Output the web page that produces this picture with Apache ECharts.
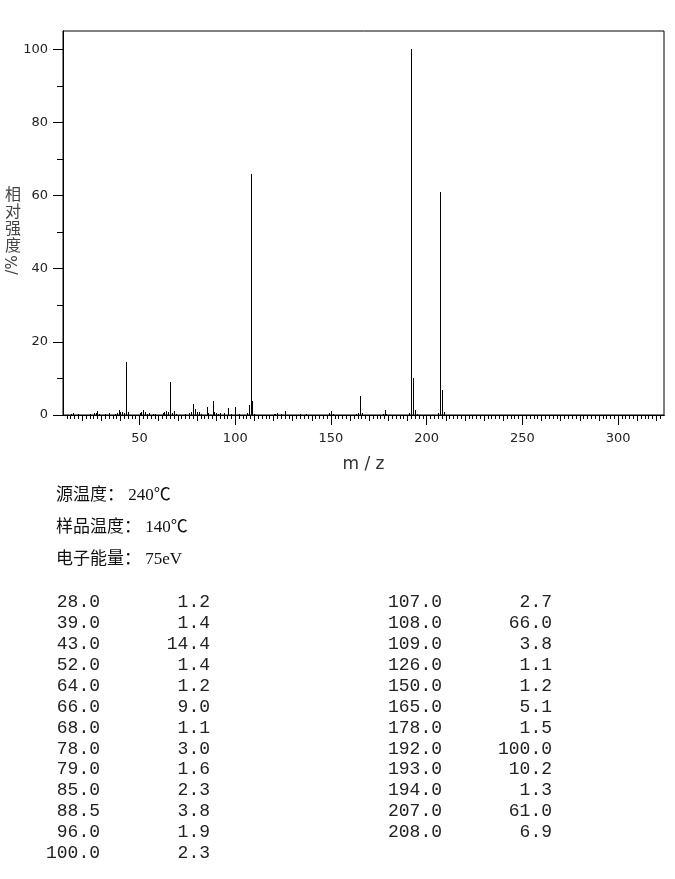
<!DOCTYPE html>
<html><head><meta charset="utf-8">
<script src="https://cdn.jsdelivr.net/npm/echarts@6/dist/echarts.min.js"></script>
<style>html,body{margin:0;padding:0;background:#fff}#c{width:675px;height:879px}</style>
</head><body><div id="c"></div>
<script>
// Listed peaks (m/z, relative intensity %)
const tableMz  = [28.0,39.0,43.0,52.0,64.0,66.0,68.0,78.0,79.0,85.0,88.5,96.0,100.0,
                  107.0,108.0,109.0,126.0,150.0,165.0,178.0,192.0,193.0,194.0,207.0,208.0];
const tableInt = [1.2,1.4,14.4,1.4,1.2,9.0,1.1,3.0,1.6,2.3,3.8,1.9,2.3,
                  2.7,66.0,3.8,1.1,1.2,5.1,1.5,100.0,10.2,1.3,61.0,6.9];
// Small unlisted peaks
const smallMz  = [14,15,18,24,26,27,29,32,34,37,38,40,41,42,44,50,51,53,54,55,57,58,62,63,65,67,69,74,76,77,80,81,82,86,89,90,91,92,94,98,102,106,110,120,121,122,124,134,137,149,151,163,164,166,177,179,191,195,206,209];
const smallInt = [0.4,0.5,0.3,0.4,0.5,0.6,0.4,0.3,0.5,0.4,0.6,0.7,0.9,0.6,0.8,0.5,0.9,0.7,0.4,0.5,0.3,0.4,0.5,0.8,0.7,0.6,0.4,0.3,0.5,0.7,0.9,0.8,0.4,0.5,0.7,0.6,0.4,0.5,0.5,0.4,0.3,0.6,0.4,0.3,0.4,0.5,0.3,0.3,0.4,0.5,0.4,0.4,0.6,0.5,0.4,0.4,0.5,0.3,0.5,0.8];
const xLabels = [50,100,150,200,250,300];
const yLabels = [0,20,40,60,80,100];
const yMinor  = [10,30,50,70,90];
const infoLines = ['源温度： 240℃','样品温度： 140℃','电子能量： 75eV'];

const xMin = 10, xMax = 324, yMax = 105;
const xMid = [], xSmall = [];
for (let v = 12; v < xMax; v += 2) {
  if (v % 50 === 0) continue;
  if (v % 10 === 0) xMid.push(v); else xSmall.push(v);
}

const peaks = [];
smallMz.forEach((m,i)=>peaks.push([m, smallInt[i]]));
tableMz.forEach((m,i)=>peaks.push([m, tableInt[i]]));

const labelFont = {fontFamily:'DejaVu Sans', fontSize:13, color:'#222'};
function xAxisDef(ticks, len, labels){
  return {type:'value', min:xMin, max:xMax, position:'bottom', gridIndex:0,
    axisLine:{show:true, onZero:false, lineStyle:{color:'#000', width:1}},
    axisTick:{show:true, customValues:ticks, length:len, lineStyle:{color:'#000'}},
    axisLabel: labels ? Object.assign({show:true, customValues:labels, margin:17}, labelFont) : {show:false},
    splitLine:{show:false}};
}
function yAxisDef(ticks, len, labels){
  return {type:'value', min:0, max:yMax, position:'left', gridIndex:0,
    axisLine:{show:true, onZero:false, lineStyle:{color:'#000', width:1}},
    axisTick:{show:true, customValues:ticks, length:len, lineStyle:{color:'#000'}},
    axisLabel: labels ? Object.assign({show:true, customValues:labels, margin:15}, labelFont) : {show:false},
    splitLine:{show:false}};
}

const graphics = [];
graphics.push({type:'text', left:5, top:185, style:{text:'相\n对\n强\n度', font:'16px "Noto Sans CJK SC"', fill:'#444', lineHeight:17}});
graphics.push({type:'text', x:13, y:265, rotation:Math.PI/2, style:{text:'/%', font:'15px "DejaVu Sans"', fill:'#444', align:'center', verticalAlign:'middle'}});
infoLines.forEach((t,i)=>{
  graphics.push({type:'text', x:56, y:496 + i*32, style:{text:t, font:'17px "Liberation Serif", "Noto Sans CJK SC"', fill:'#111', verticalAlign:'middle'}});
});
const rowsLeft = 13;
tableMz.forEach((m,i)=>{
  const col = i < rowsLeft ? 0 : 1;
  const row = col === 0 ? i : i - rowsLeft;
  const y = 602.5 + row * 20.9;
  const xm = col === 0 ? 100 : 442;
  const xi = col === 0 ? 210 : 552;
  const f = '18px "Liberation Mono"';
  graphics.push({type:'text', x:xm, y:y, style:{text:m.toFixed(1), font:f, fill:'#222', align:'right', verticalAlign:'middle'}});
  graphics.push({type:'text', x:xi, y:y, style:{text:tableInt[i].toFixed(1), font:f, fill:'#222', align:'right', verticalAlign:'middle'}});
});

const chart = echarts.init(document.getElementById('c'), null, {renderer:'canvas'});
chart.setOption({
  animation:false,
  backgroundColor:'#fff',
  grid:{left:63, top:31, right:11, bottom:464, show:true, borderColor:'#000', borderWidth:1, containLabel:false},
  xAxis:[
    Object.assign(xAxisDef(xLabels, 10, xLabels), {name:'m / z', nameLocation:'middle', nameGap:41,
      nameTextStyle:{fontFamily:'DejaVu Sans', fontSize:17, color:'#333'}}),
    xAxisDef(xMid, 6, null),
    xAxisDef(xSmall, 4, null)
  ],
  yAxis:[ yAxisDef(yLabels, 10, yLabels), yAxisDef(yMinor, 6, null) ],
  series:[{
    type:'custom', xAxisIndex:0, yAxisIndex:0, data:peaks, clip:true,
    renderItem:function(params, api){
      const p1 = api.coord([api.value(0), api.value(1)]);
      const p0 = api.coord([api.value(0), 0]);
      const x = Math.round(p0[0]) + 0.5;
      return {type:'line', shape:{x1:x, y1:Math.round(p0[1]), x2:x, y2:Math.round(p1[1])},
        style:{stroke:'#000', lineWidth:1}};
    }
  }],
  graphic:graphics
});
</script></body></html>
